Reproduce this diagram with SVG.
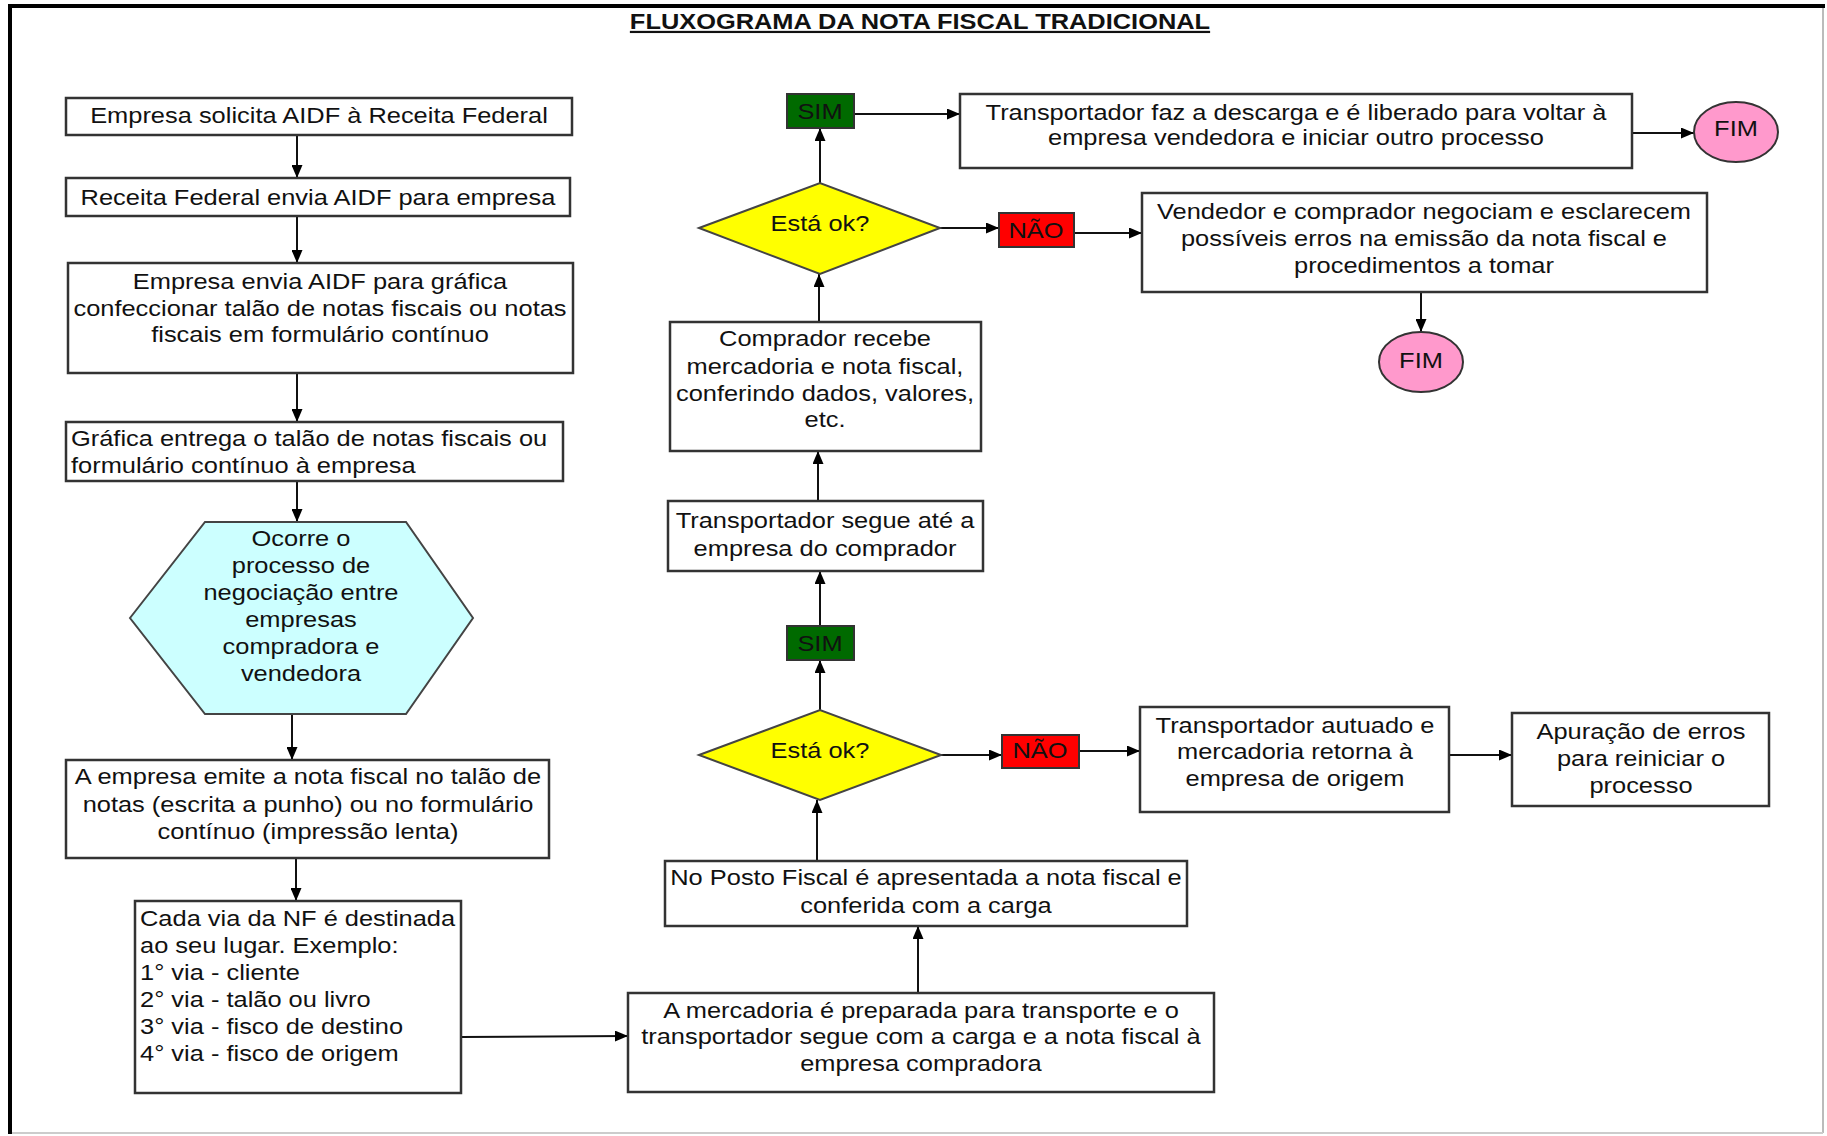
<svg xmlns="http://www.w3.org/2000/svg" width="1827" height="1136" viewBox="0 0 1827 1136">
<style>
text{font-family:"Liberation Sans",Arial,sans-serif;font-size:22.5px;fill:#111;}
.c{text-anchor:middle;transform-box:fill-box;transform-origin:center;transform:scaleX(1.13);}
.l{text-anchor:start;transform-box:fill-box;transform-origin:left center;transform:scaleX(1.13);}
.title{font-weight:bold;font-size:22px;text-decoration:underline;transform:scaleX(1.155);}
.box{fill:#fff;stroke:#333;stroke-width:2.5;}
.hex{fill:#ccffff;stroke:#444;stroke-width:2;}
.dia{fill:#ffff00;stroke:#444;stroke-width:2;}
.sim{fill:#006a00;stroke:#333;stroke-width:2;}
.nao{fill:#ff0000;stroke:#333;stroke-width:2;}
.fim{fill:#ff99cc;stroke:#333;stroke-width:2;}
.con line{stroke:#111;stroke-width:2;marker-end:url(#ah);}
</style>
<defs>
<marker id="ah" viewBox="0 0 13 11" markerWidth="13" markerHeight="11" refX="13" refY="5.5" orient="auto" markerUnits="userSpaceOnUse">
<path d="M0,0 L13,5.5 L0,11 z" fill="#000"/>
</marker>
</defs>
<rect x="0" y="0" width="1827" height="1136" fill="#fff"/>
<g id="frame">
<line x1="1823" y1="6" x2="1823" y2="1133" stroke="#bbb" stroke-width="2"/>
<line x1="10" y1="1133" x2="1823" y2="1133" stroke="#ccc" stroke-width="2"/>
<line x1="8" y1="6" x2="1825" y2="6" stroke="#000" stroke-width="4"/>
<line x1="10" y1="4" x2="10" y2="1134" stroke="#000" stroke-width="4"/>
</g>
<g id="title"><text class="c title" x="920" y="29">FLUXOGRAMA DA NOTA FISCAL TRADICIONAL</text></g>

<g id="connectors" class="con">
<line x1="297" y1="135" x2="297" y2="178"/>
<line x1="297" y1="216" x2="297" y2="263"/>
<line x1="297" y1="373" x2="297" y2="422"/>
<line x1="297" y1="481" x2="297" y2="522"/>
<line x1="292" y1="714" x2="292" y2="760"/>
<line x1="296" y1="858" x2="296" y2="901"/>
<line x1="461" y1="1037" x2="628" y2="1036"/>
<line x1="918" y1="993" x2="918" y2="926"/>
<line x1="817" y1="861" x2="817" y2="800"/>
<line x1="820" y1="710" x2="820" y2="660"/>
<line x1="820" y1="626" x2="820" y2="571"/>
<line x1="818" y1="501" x2="818" y2="451"/>
<line x1="819" y1="322" x2="819" y2="274"/>
<line x1="820" y1="183" x2="820" y2="128"/>
<line x1="854" y1="114" x2="960" y2="114"/>
<line x1="1632" y1="133" x2="1694" y2="133"/>
<line x1="940" y1="228" x2="999" y2="228"/>
<line x1="1074" y1="233" x2="1142" y2="233"/>
<line x1="1421" y1="292" x2="1421" y2="332"/>
<line x1="941" y1="755" x2="1002" y2="755"/>
<line x1="1079" y1="751" x2="1140" y2="751"/>
<line x1="1449" y1="755" x2="1512" y2="755"/>
</g>

<g id="n-a"><rect class="box" x="66" y="98" width="506" height="37"/>
<text class="c" x="319" y="123">Empresa solicita AIDF à Receita Federal</text></g>
<g id="n-b"><rect class="box" x="66" y="178" width="504" height="38"/>
<text class="c" x="318" y="205">Receita Federal envia AIDF para empresa</text></g>
<g id="n-c"><rect class="box" x="68" y="263" width="505" height="110"/>
<text class="c" x="320" y="289">Empresa envia AIDF para gráfica</text>
<text class="c" x="320" y="316">confeccionar talão de notas fiscais ou notas</text>
<text class="c" x="320" y="342">fiscais em formulário contínuo</text></g>
<g id="n-d"><rect class="box" x="66" y="422" width="497" height="59"/>
<text class="l" x="71" y="446">Gráfica entrega o talão de notas fiscais ou</text>
<text class="l" x="71" y="473">formulário contínuo à empresa</text></g>
<g id="n-e"><polygon class="hex" points="130,618 205,522 406,522 473,618 406,714 205,714"/>
<text class="c" x="301" y="546">Ocorre o</text>
<text class="c" x="301" y="573">processo de</text>
<text class="c" x="301" y="600">negociação entre</text>
<text class="c" x="301" y="627">empresas</text>
<text class="c" x="301" y="654">compradora e</text>
<text class="c" x="301" y="681">vendedora</text></g>
<g id="n-f"><rect class="box" x="66" y="760" width="483" height="98"/>
<text class="c" x="308" y="784">A empresa emite a nota fiscal no talão de</text>
<text class="c" x="308" y="812">notas (escrita a punho) ou no formulário</text>
<text class="c" x="308" y="839">contínuo (impressão lenta)</text></g>
<g id="n-g"><rect class="box" x="135" y="901" width="326" height="192"/>
<text class="l" x="140" y="926">Cada via da NF é destinada</text>
<text class="l" x="140" y="953">ao seu lugar. Exemplo:</text>
<text class="l" x="140" y="980">1° via - cliente</text>
<text class="l" x="140" y="1007">2° via - talão ou livro</text>
<text class="l" x="140" y="1034">3° via - fisco de destino</text>
<text class="l" x="140" y="1061">4° via - fisco de origem</text></g>
<g id="n-h"><rect class="box" x="628" y="993" width="586" height="99"/>
<text class="c" x="921" y="1018">A mercadoria é preparada para transporte e o</text>
<text class="c" x="921" y="1044">transportador segue com a carga e a nota fiscal à</text>
<text class="c" x="921" y="1071">empresa compradora</text></g>
<g id="n-i"><rect class="box" x="665" y="861" width="522" height="65"/>
<text class="c" x="926" y="885">No Posto Fiscal é apresentada a nota fiscal e</text>
<text class="c" x="926" y="913">conferida com a carga</text></g>
<g id="n-d2"><polygon class="dia" points="699,755 820,710 941,755 820,800"/>
<text class="c" x="820" y="758">Está ok?</text></g>
<g id="n-sim2"><rect class="sim" x="787" y="626" width="67" height="34"/>
<text class="c" x="820" y="651">SIM</text></g>
<g id="n-j"><rect class="box" x="668" y="501" width="315" height="70"/>
<text class="c" x="825" y="528">Transportador segue até a</text>
<text class="c" x="825" y="556">empresa do comprador</text></g>
<g id="n-k"><rect class="box" x="670" y="322" width="311" height="129"/>
<text class="c" x="825" y="346">Comprador recebe</text>
<text class="c" x="825" y="374">mercadoria e nota fiscal,</text>
<text class="c" x="825" y="401">conferindo dados, valores,</text>
<text class="c" x="825" y="427">etc.</text></g>
<g id="n-d1"><polygon class="dia" points="699,228 820,183 940,228 820,274"/>
<text class="c" x="820" y="231">Está ok?</text></g>
<g id="n-sim1"><rect class="sim" x="787" y="94" width="67" height="34"/>
<text class="c" x="820" y="119">SIM</text></g>
<g id="n-l"><rect class="box" x="960" y="94" width="672" height="74"/>
<text class="c" x="1296" y="120">Transportador faz a descarga e é liberado para voltar à</text>
<text class="c" x="1296" y="145">empresa vendedora e iniciar outro processo</text></g>
<g id="n-fim1"><ellipse class="fim" cx="1736" cy="132" rx="42" ry="30"/>
<text class="c" x="1736" y="136">FIM</text></g>
<g id="n-nao1"><rect class="nao" x="999" y="213" width="75" height="34"/>
<text class="c" x="1036" y="238">NÃO</text></g>
<g id="n-m"><rect class="box" x="1142" y="193" width="565" height="99"/>
<text class="c" x="1424" y="219">Vendedor e comprador negociam e esclarecem</text>
<text class="c" x="1424" y="246">possíveis erros na emissão da nota fiscal e</text>
<text class="c" x="1424" y="273">procedimentos a tomar</text></g>
<g id="n-fim2"><ellipse class="fim" cx="1421" cy="362" rx="42" ry="30"/>
<text class="c" x="1421" y="368">FIM</text></g>
<g id="n-nao2"><rect class="nao" x="1002" y="735" width="77" height="33"/>
<text class="c" x="1040" y="758">NÃO</text></g>
<g id="n-n"><rect class="box" x="1140" y="707" width="309" height="105"/>
<text class="c" x="1295" y="733">Transportador autuado e</text>
<text class="c" x="1295" y="759">mercadoria retorna à</text>
<text class="c" x="1295" y="786">empresa de origem</text></g>
<g id="n-o"><rect class="box" x="1512" y="713" width="257" height="93"/>
<text class="c" x="1641" y="739">Apuração de erros</text>
<text class="c" x="1641" y="766">para reiniciar o</text>
<text class="c" x="1641" y="793">processo</text></g>
</svg>
